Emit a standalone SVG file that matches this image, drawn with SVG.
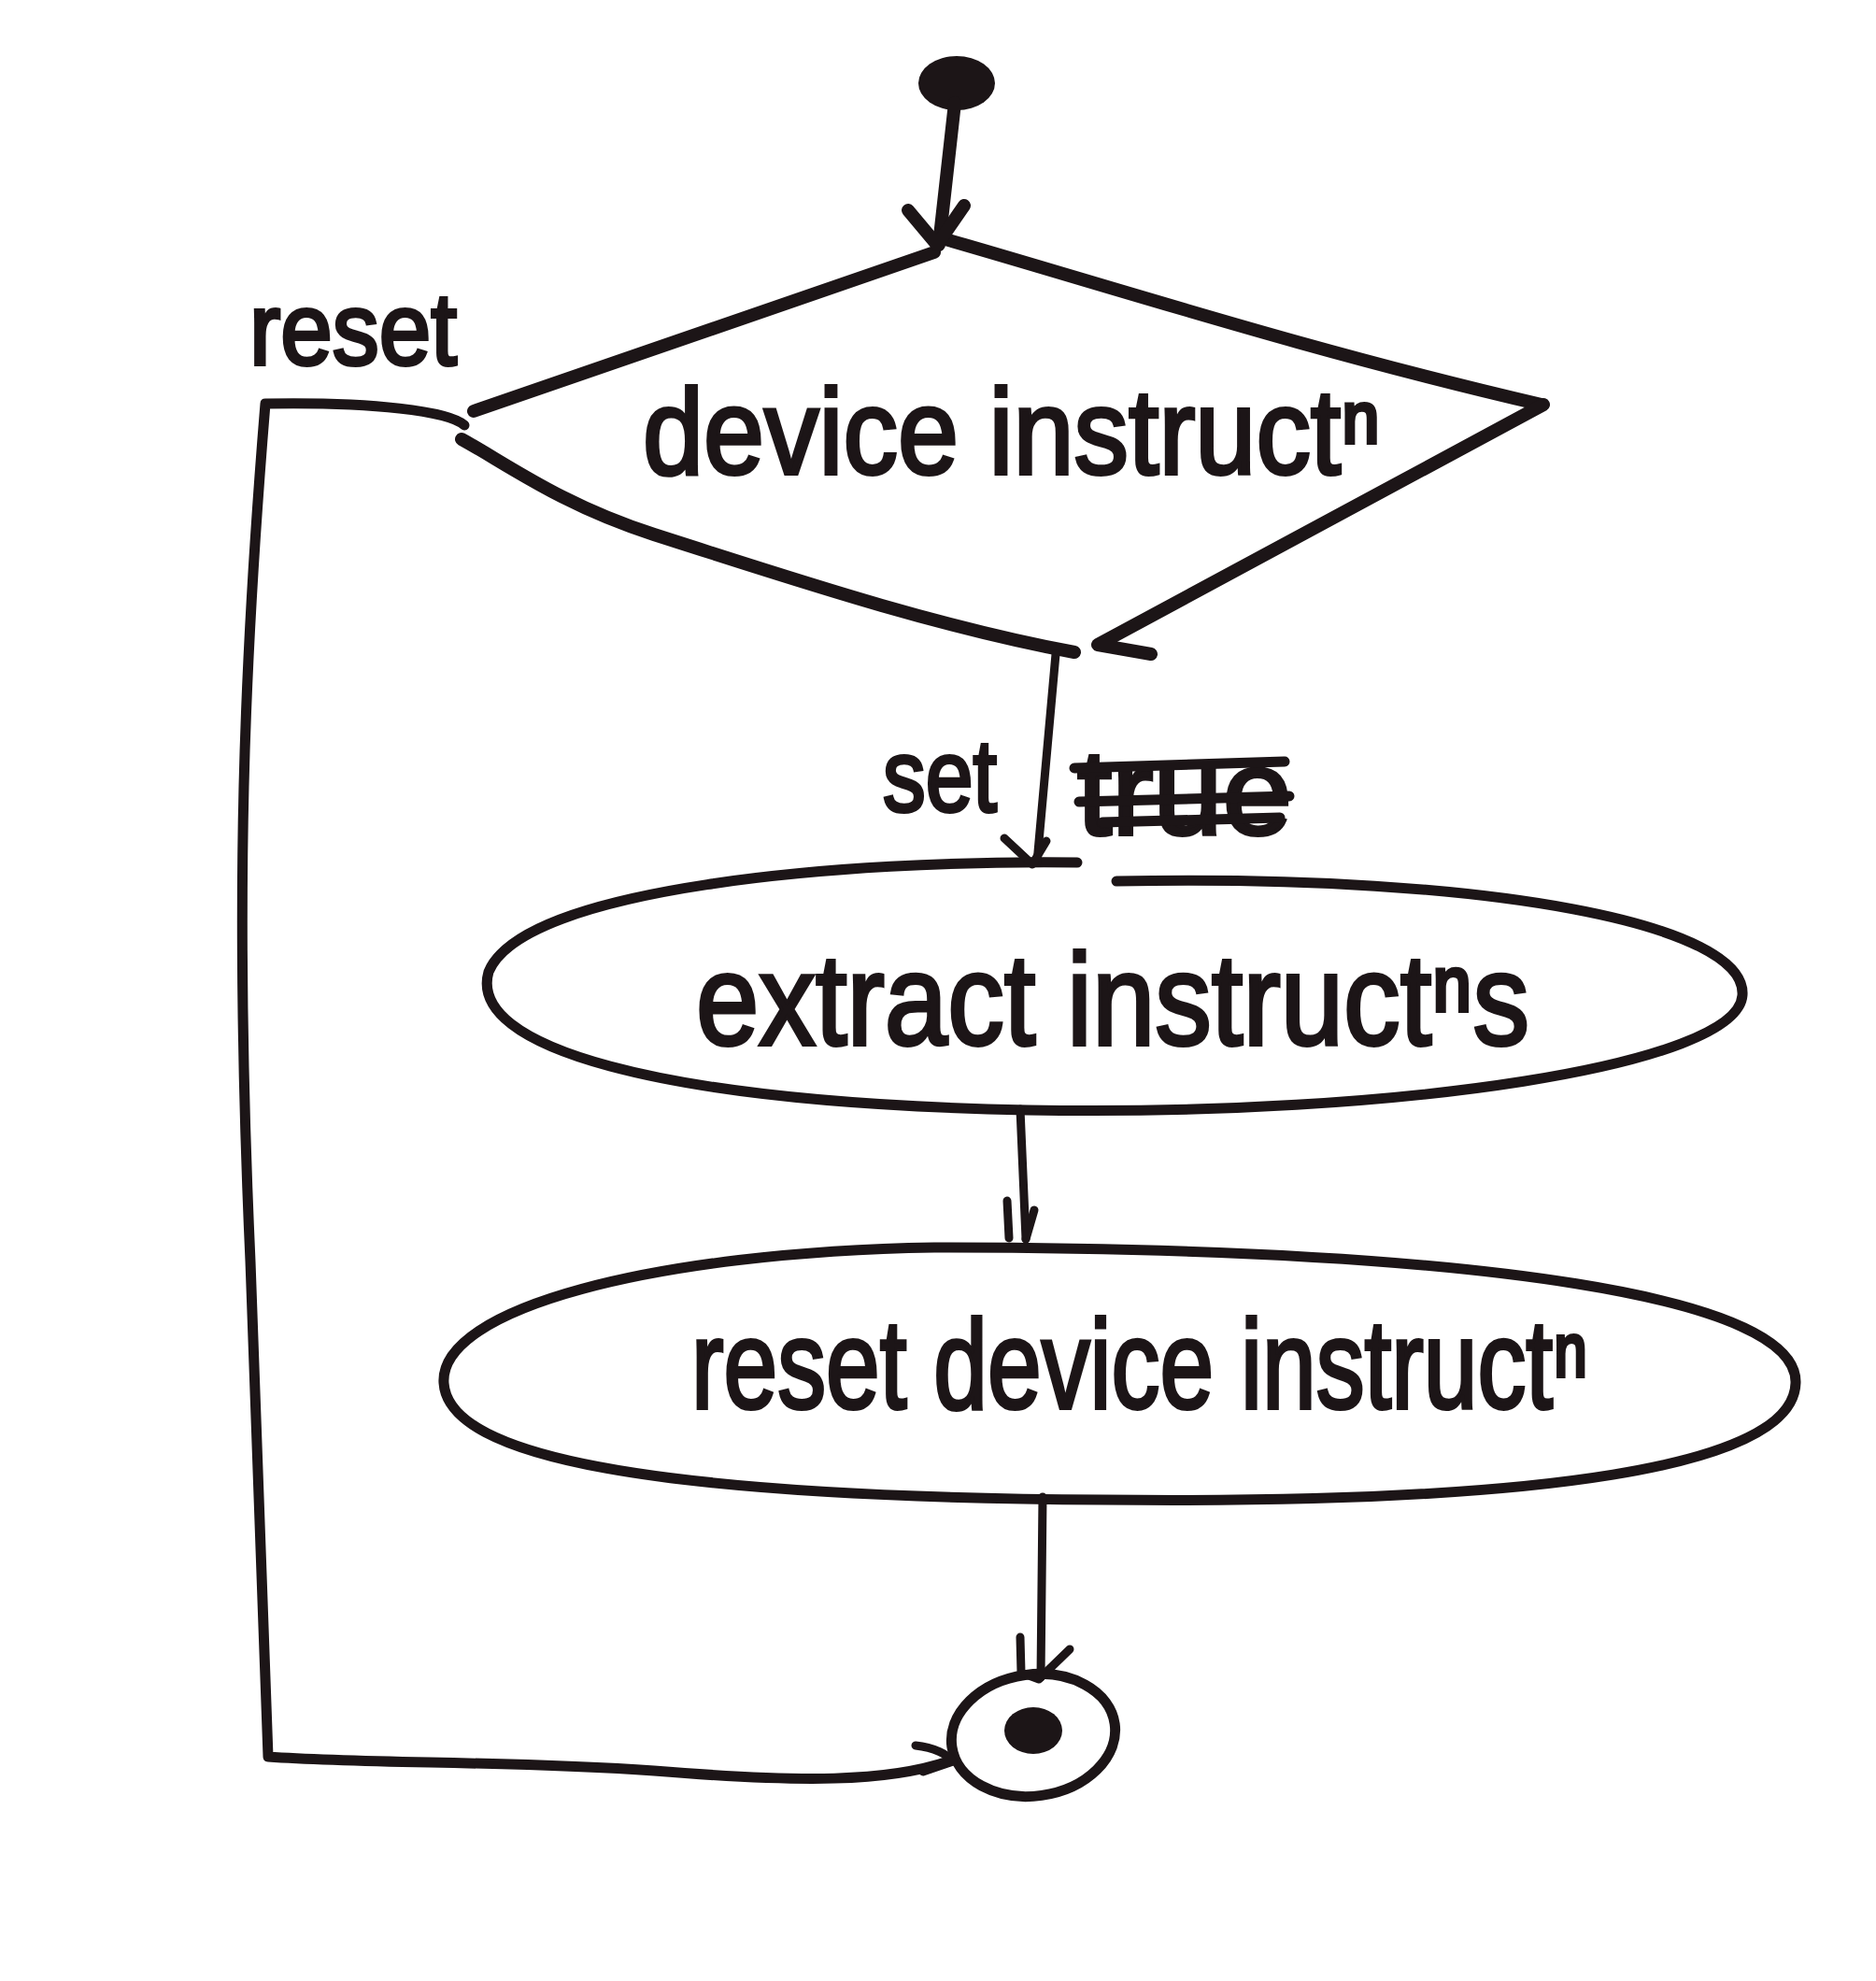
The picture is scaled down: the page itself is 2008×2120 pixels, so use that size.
<svg xmlns="http://www.w3.org/2000/svg" width="2008" height="2120" viewBox="0 0 2008 2120">
<style>
.ink{fill:none;stroke:#1c1517;stroke-linecap:round;stroke-linejoin:round}
.thick{stroke-width:14}
.med{stroke-width:11}
.thin{stroke-width:9}
.dot{fill:#1c1517}
.lbl{font-family:"Liberation Sans","DejaVu Sans",sans-serif;fill:#1c1517;stroke:#1c1517;stroke-width:4}
</style>
<rect x="0" y="0" width="2008" height="2120" fill="#ffffff"/>
<g id="start">
<ellipse class="dot" cx="1024" cy="89" rx="41" ry="29"/>
</g>
<g id="decision">
<path class="ink thick" d="M507,440 L1000,270"/>
<path class="ink thick" d="M1005,254 C1200,310 1400,375 1650,433"/>
<path class="ink thick" d="M1652,433 L1175,690 L1232,700"/>
<path class="ink thick" d="M494,470 C540,495 600,540 700,572 C850,620 1000,670 1150,698"/>
<text class="lbl" x="688" y="507" font-size="130" textLength="790" lengthAdjust="spacingAndGlyphs">device instructⁿ</text>
</g>
<g id="extract">
<path class="ink med" d="M1153,923 C900,920 560,950 523,1040 C500,1120 700,1180 1100,1188 C1500,1195 1860,1140 1865,1065 C1870,990 1600,935 1195,943"/>
<text class="lbl" x="745" y="1118" font-size="140" textLength="892" lengthAdjust="spacingAndGlyphs">extract instructⁿs</text>
</g>
<g id="reset-node">
<path class="ink med" d="M1000,1335 C700,1340 470,1400 475,1480 C480,1560 700,1602 1180,1605 C1650,1610 1920,1570 1922,1480 C1925,1390 1600,1335 1000,1335 Z"/>
<text class="lbl" x="740" y="1507" font-size="135" textLength="960" lengthAdjust="spacingAndGlyphs">reset device instructⁿ</text>
</g>
<g id="end">
<ellipse class="ink med" cx="1106" cy="1857" rx="88" ry="65" transform="rotate(-8 1106 1857)"/>
<ellipse class="dot" cx="1106" cy="1852" rx="31" ry="25"/>
</g>
<g id="connectors">
<path class="ink thick" d="M1022,110 L1005,262"/>
<path class="ink thick" d="M972,225 L1003,262 L1032,220"/>
<path class="ink thin" d="M1130,700 L1110,923"/>
<path class="ink thin" d="M1075,897 L1105,925 L1120,900"/>
<path class="ink thin" d="M1092,1187 L1098,1326"/>
<path class="ink thin" d="M1078,1285 L1080,1325 M1107,1295 L1098,1326"/>
<path class="ink thin" d="M1116,1602 L1114,1795"/>
<path class="ink thin" d="M1092,1752 L1093,1790 L1112,1797 L1145,1765"/>
<path class="ink med" d="M497,455 C480,440 400,430 284,432 C262,700 250,950 268,1350 C276,1600 284,1750 287,1880 C400,1888 540,1884 700,1895 C860,1908 950,1907 1015,1885"/>
<path class="ink thin" d="M980,1868 C1000,1870 1015,1878 1020,1885 L988,1896"/>
<text class="lbl" x="267" y="390" font-size="110" textLength="222" lengthAdjust="spacingAndGlyphs">reset</text>
<text class="lbl" x="945" y="868" font-size="110" textLength="122" lengthAdjust="spacingAndGlyphs">set</text>
<text class="lbl" x="1153" y="893" font-size="130" textLength="230" lengthAdjust="spacingAndGlyphs">true</text>
<path class="ink med" d="M1150,822 L1375,815 M1155,858 L1380,852 M1180,880 L1370,875"/>
</g>
</svg>
